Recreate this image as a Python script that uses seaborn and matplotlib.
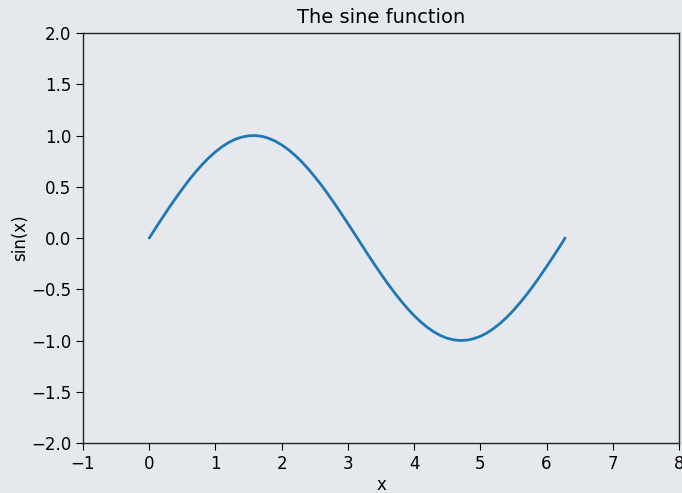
import matplotlib
matplotlib.use("Agg")
import matplotlib.pyplot as plt
import seaborn as sns
import pandas as pd

# Sampled points of the curve
x_vals = [0.0, 0.1, 0.2, 0.3, 0.4, 0.5, 0.6, 0.7, 0.8, 0.9,
          1.0, 1.1, 1.2, 1.3, 1.4, 1.5, 1.6, 1.7, 1.8, 1.9,
          2.0, 2.1, 2.2, 2.3, 2.4, 2.5, 2.6, 2.7, 2.8, 2.9,
          3.0, 3.1, 3.2, 3.3, 3.4, 3.5, 3.6, 3.7, 3.8, 3.9,
          4.0, 4.1, 4.2, 4.3, 4.4, 4.5, 4.6, 4.7, 4.8, 4.9,
          5.0, 5.1, 5.2, 5.3, 5.4, 5.5, 5.6, 5.7, 5.8, 5.9,
          6.0, 6.1, 6.2, 6.28]
y_vals = [0.000, 0.100, 0.199, 0.296, 0.389, 0.479, 0.565, 0.644, 0.717, 0.783,
          0.841, 0.891, 0.932, 0.964, 0.985, 0.997, 1.000, 0.992, 0.974, 0.946,
          0.909, 0.863, 0.808, 0.746, 0.675, 0.598, 0.516, 0.427, 0.335, 0.239,
          0.141, 0.042, -0.058, -0.158, -0.256, -0.351, -0.443, -0.530, -0.612, -0.688,
          -0.757, -0.818, -0.872, -0.916, -0.952, -0.978, -0.994, -1.000, -0.996, -0.982,
          -0.959, -0.926, -0.883, -0.832, -0.773, -0.706, -0.631, -0.551, -0.465, -0.374,
          -0.279, -0.182, -0.083, 0.000]

x_ticks = [-1, 0, 1, 2, 3, 4, 5, 6, 7, 8]
y_ticks = [-2.0, -1.5, -1.0, -0.5, 0.0, 0.5, 1.0, 1.5, 2.0]

df = pd.DataFrame({"x": x_vals, "sin(x)": y_vals})

bg = "#e5e9ee"
sns.set_style("ticks")
plt.rcParams["font.family"] = ["DejaVu Sans"]
plt.rcParams["font.size"] = 12
plt.rcParams["text.color"] = "black"
plt.rcParams["axes.labelcolor"] = "black"
plt.rcParams["xtick.color"] = "black"
plt.rcParams["ytick.color"] = "black"

fig = plt.figure(figsize=(6.82, 4.93), dpi=100, facecolor=bg)
ax = fig.add_axes([0.1217, 0.1014, 0.8739, 0.8316])
ax.set_facecolor(bg)

sns.lineplot(data=df, x="x", y="sin(x)", ax=ax, color="#1f77b4",
             linewidth=2, sort=False)

ax.set_xlim(-1, 8)
ax.set_ylim(-2, 2)
ax.set_xticks(x_ticks)
ax.set_yticks(y_ticks)
ax.set_xticklabels([f"{t}".replace("-", "\u2212") for t in x_ticks])
ax.set_yticklabels([f"{t:.1f}".replace("-", "\u2212") for t in y_ticks])
ax.tick_params(labelsize=12, length=5)
for s in ax.spines.values():
    s.set_visible(True)
    s.set_color("#222222")
    s.set_linewidth(1)

ax.set_xlabel("x", fontsize=12, labelpad=2)
ax.set_ylabel("sin(x)", fontsize=12, labelpad=1)
ax.set_title("The sine function", fontsize=14, pad=7)

fig.savefig("out.png", dpi=100, facecolor=bg)
